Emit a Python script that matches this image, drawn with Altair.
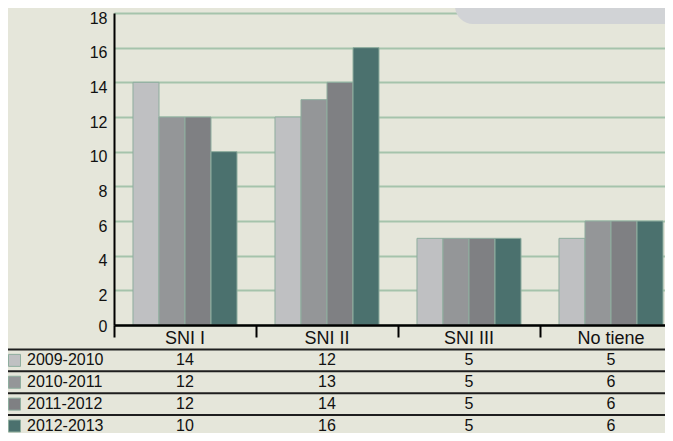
import altair as alt
import pandas as pd

categories = ["SNI I", "SNI II", "SNI III", "No tiene"]
series = ["2009-2010", "2010-2011", "2011-2012", "2012-2013"]
values = {
    "2009-2010": [14, 12, 5, 5],
    "2010-2011": [12, 13, 5, 6],
    "2011-2012": [12, 14, 5, 6],
    "2012-2013": [10, 16, 5, 6],
}
y_ticks = [0, 2, 4, 6, 8, 10, 12, 14, 16, 18]
colors = ["#bfc0c2", "#949698", "#7f8083", "#4b716e"]

FONT = "Liberation Sans"
BG = "#e5e6da"

rows = []
for si, s in enumerate(series):
    for ci, c in enumerate(categories):
        rows.append({"category": c, "series": s, "value": values[s][ci], "row": si + 1})
df = pd.DataFrame(rows)
cat_df = pd.DataFrame({"category": categories, "row": [0] * len(categories)})
ser_df = pd.DataFrame({"series": series, "row": list(range(1, len(series) + 1))})
sep_df = pd.DataFrame({"row": [0.5, 1.5, 2.5, 3.5]})
box_df = pd.DataFrame({"k": [0]})

xscale = alt.Scale(domain=categories, range=[0, 568], paddingInner=0, paddingOuter=0)
cscale = alt.Scale(domain=series, range=colors)
tscale = alt.Scale(domain=[0, 4], range=[325.5, 413])

bars = alt.Chart(df).mark_bar(stroke="#8fae9f", strokeWidth=1).encode(
    x=alt.X("category:N", scale=xscale, sort=categories,
            axis=alt.Axis(title=None, labels=False, bandPosition=0, tickSize=12,
                          tickWidth=2, tickColor="#000", domainColor="#000",
                          domainWidth=2.5, grid=False, zindex=1)),
    xOffset=alt.XOffset("series:N", sort=series,
                        scale=alt.Scale(paddingInner=0, paddingOuter=0.73)),
    y=alt.Y("value:Q", scale=alt.Scale(domain=[0, 18]),
            axis=alt.Axis(title=None, values=y_ticks, ticks=False, domainColor="#000",
                          domainWidth=2, gridColor="#a5c3ab", gridWidth=2,
                          labelFont=FONT, labelFontSize=16, labelColor="#111",
                          labelPadding=7, labelBaseline="middle",
                          labelOffset={"condition": {"test": "datum.value == 0", "value": 1}, "value": 5},
                          zindex=0)),
    color=alt.Color("series:N", scale=cscale, legend=None),
)

box = alt.Chart(box_df).mark_rect(color="#d1d3d6", cornerRadius=18).encode(
    x=alt.value(341), x2=alt.value(700), y=alt.value(-40), y2=alt.value(11)
)

seps = alt.Chart(sep_df).mark_rule(color="#1e1e1e", strokeWidth=2).encode(
    y=alt.Y("row:Q", scale=tscale, axis=None),
    x=alt.value(-106), x2=alt.value(700),
)

cat_text = alt.Chart(cat_df).mark_text(font=FONT, fontSize=18, color="#111", baseline="middle").encode(
    x=alt.X("category:N", scale=xscale, sort=categories),
    y=alt.Y("row:Q", scale=tscale, axis=None),
    text="category:N",
)

val_text = alt.Chart(df).mark_text(font=FONT, fontSize=16, color="#111", baseline="middle").encode(
    x=alt.X("category:N", scale=xscale, sort=categories),
    y=alt.Y("row:Q", scale=tscale, axis=None),
    text="value:Q",
)

leg_text = alt.Chart(ser_df).mark_text(font=FONT, fontSize=16, color="#111", baseline="middle", align="left").encode(
    x=alt.value(-87),
    y=alt.Y("row:Q", scale=tscale, axis=None),
    text="series:N",
)

leg_sw = alt.Chart(ser_df).mark_square(size=144, opacity=1, stroke="#8fae9f", strokeWidth=1).encode(
    x=alt.value(-99.5),
    y=alt.Y("row:Q", scale=tscale, axis=None),
    color=alt.Color("series:N", scale=cscale, legend=None),
)

chart = alt.layer(bars, box, seps, cat_text, val_text, leg_text, leg_sw).resolve_scale(
    y="independent"
).properties(
    width=551, height=312,
    autosize=alt.AutoSizeParams(type="none"),
    padding={"left": 106, "top": 5, "right": 0, "bottom": 108},
    background=BG,
).configure_view(stroke=None)

chart.save("out.html", embed_options={"renderer": "svg", "actions": False})
